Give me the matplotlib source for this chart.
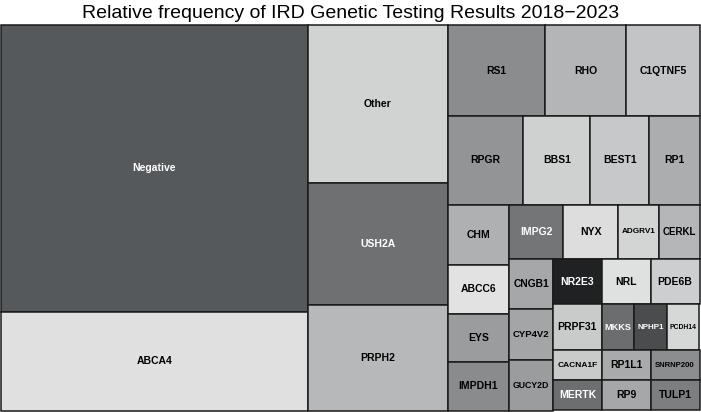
import matplotlib
matplotlib.use("Agg")
import matplotlib.pyplot as plt
from matplotlib.patches import Rectangle
from matplotlib.colors import to_rgb

plt.rcParams['font.family'] = ['Liberation Sans', 'DejaVu Sans']

# counts per result (read from tile areas)
labels = ['Negative', 'ABCA4', 'Other', 'USH2A', 'PRPH2', 'RS1', 'RHO', 'C1QTNF5',
          'RPGR', 'BBS1', 'BEST1', 'RP1', 'CHM', 'ABCC6', 'EYS', 'IMPDH1',
          'IMPG2', 'NYX', 'ADGRV1', 'CERKL', 'CNGB1', 'CYP4V2', 'GUCY2D',
          'NR2E3', 'NRL', 'PDE6B', 'PRPF31', 'CACNA1F', 'MERTK', 'MKKS',
          'NPHP1', 'PCDH14', 'RP1L1', 'RP9', 'SNRNP200', 'TULP1']
counts = [119, 41, 30, 23, 20, 12, 10, 9,
          9, 8, 7, 6, 5, 4, 4, 4,
          4, 4, 3, 3, 3, 3, 3,
          3, 3, 3, 3, 2, 2, 2,
          2, 2, 2, 2, 2, 2]
colors = ['#55595c', '#dfe0df', '#d1d3d2', '#6f7072', '#b6b8b9', '#8a8c8d', '#b3b5b6', '#c2c4c5',
          '#929495', '#cfd0d0', '#c6c8c9', '#abadae', '#aeb0b1', '#e1e2e1', '#9a9c9d', '#898b8c',
          '#737577', '#dcdddc', '#d3d4d4', '#b4b6b7', '#a5a7a8', '#a3a5a6', '#9a9c9d',
          '#1f2123', '#dfe0e0', '#ccced0', '#c9cbcb', '#c9cbcb', '#6c6e70', '#6b6d6f',
          '#4a4c4e', '#d6d7d7', '#a8aaab', '#a5a7a8', '#8b8d8e', '#7c7e80']


def pivot_size(items, x, y, w, h, out):
    # ordered treemap, pivot by size (items already sorted, biggest first)
    if len(items) == 0:
        return
    if len(items) == 1:
        out[items[0][0]] = (x, y, w, h)
        return
    total = sum(v for _, v in items)
    p = items[0]
    rest = items[1:]
    best_ar, best_k = None, 0
    for k in range(len(rest) + 1):
        s = p[1] + sum(v for _, v in rest[:k])
        if w >= h:
            a, b = w * s / total, h * p[1] / s
        else:
            a, b = h * s / total, w * p[1] / s
        ar = max(a / b, b / a)
        if best_ar is None or ar < best_ar - 1e-9:
            best_ar, best_k = ar, k
    l2 = rest[:best_k]
    l3 = rest[best_k:]
    s = p[1] + sum(v for _, v in l2)
    if w >= h:
        cw = w * s / total
        ph = h * p[1] / s
        out[p[0]] = (x, y, cw, ph)
        pivot_size(l2, x, y + ph, cw, h - ph, out)
        pivot_size(l3, x + cw, y, w - cw, h, out)
    else:
        rh = h * s / total
        pw = w * p[1] / s
        out[p[0]] = (x, y, pw, rh)
        pivot_size(l2, x + pw, y, w - pw, rh, out)
        pivot_size(l3, x, y + rh, w, h - rh, out)


W, H = 699.0, 385.5
fig = plt.figure(figsize=(7.01, 4.12), dpi=100)
ax = fig.add_axes([0.5 / 701, 1.5 / 412, W / 701, H / 412])
ax.set_xlim(0, W)
ax.set_ylim(H, 0)
ax.axis('off')

order = sorted(range(len(labels)), key=lambda i: -counts[i])
rects = {}
pivot_size([(i, counts[i]) for i in order], 0, 0, W, H, rects)

renderer = fig.canvas.get_renderer()
base_fs = 7.5
for i, lab in enumerate(labels):
    x, y, w, h = rects[i]
    ax.add_patch(Rectangle((x, y), w, h, facecolor=colors[i], edgecolor='#1a1a1a',
                           linewidth=1.1, clip_on=False))
    r, g, b = to_rgb(colors[i])
    lum = 0.299 * r + 0.587 * g + 0.114 * b
    tc = 'white' if lum < 0.47 else 'black'
    t = ax.text(x + w / 2, y + h / 2, lab, ha='center', va='center', fontsize=base_fs,
                fontweight='bold', color=tc)
    tw = t.get_window_extent(renderer).width
    if tw > 0.82 * w:
        t.set_fontsize(base_fs * 0.82 * w / tw)

fig.text(0.5, (412 - 18.3) / 412, 'Relative frequency of IRD Genetic Testing Results 2018\u22122023',
         ha='center', va='baseline', fontsize=14)

fig.savefig('out.png', dpi=100)
